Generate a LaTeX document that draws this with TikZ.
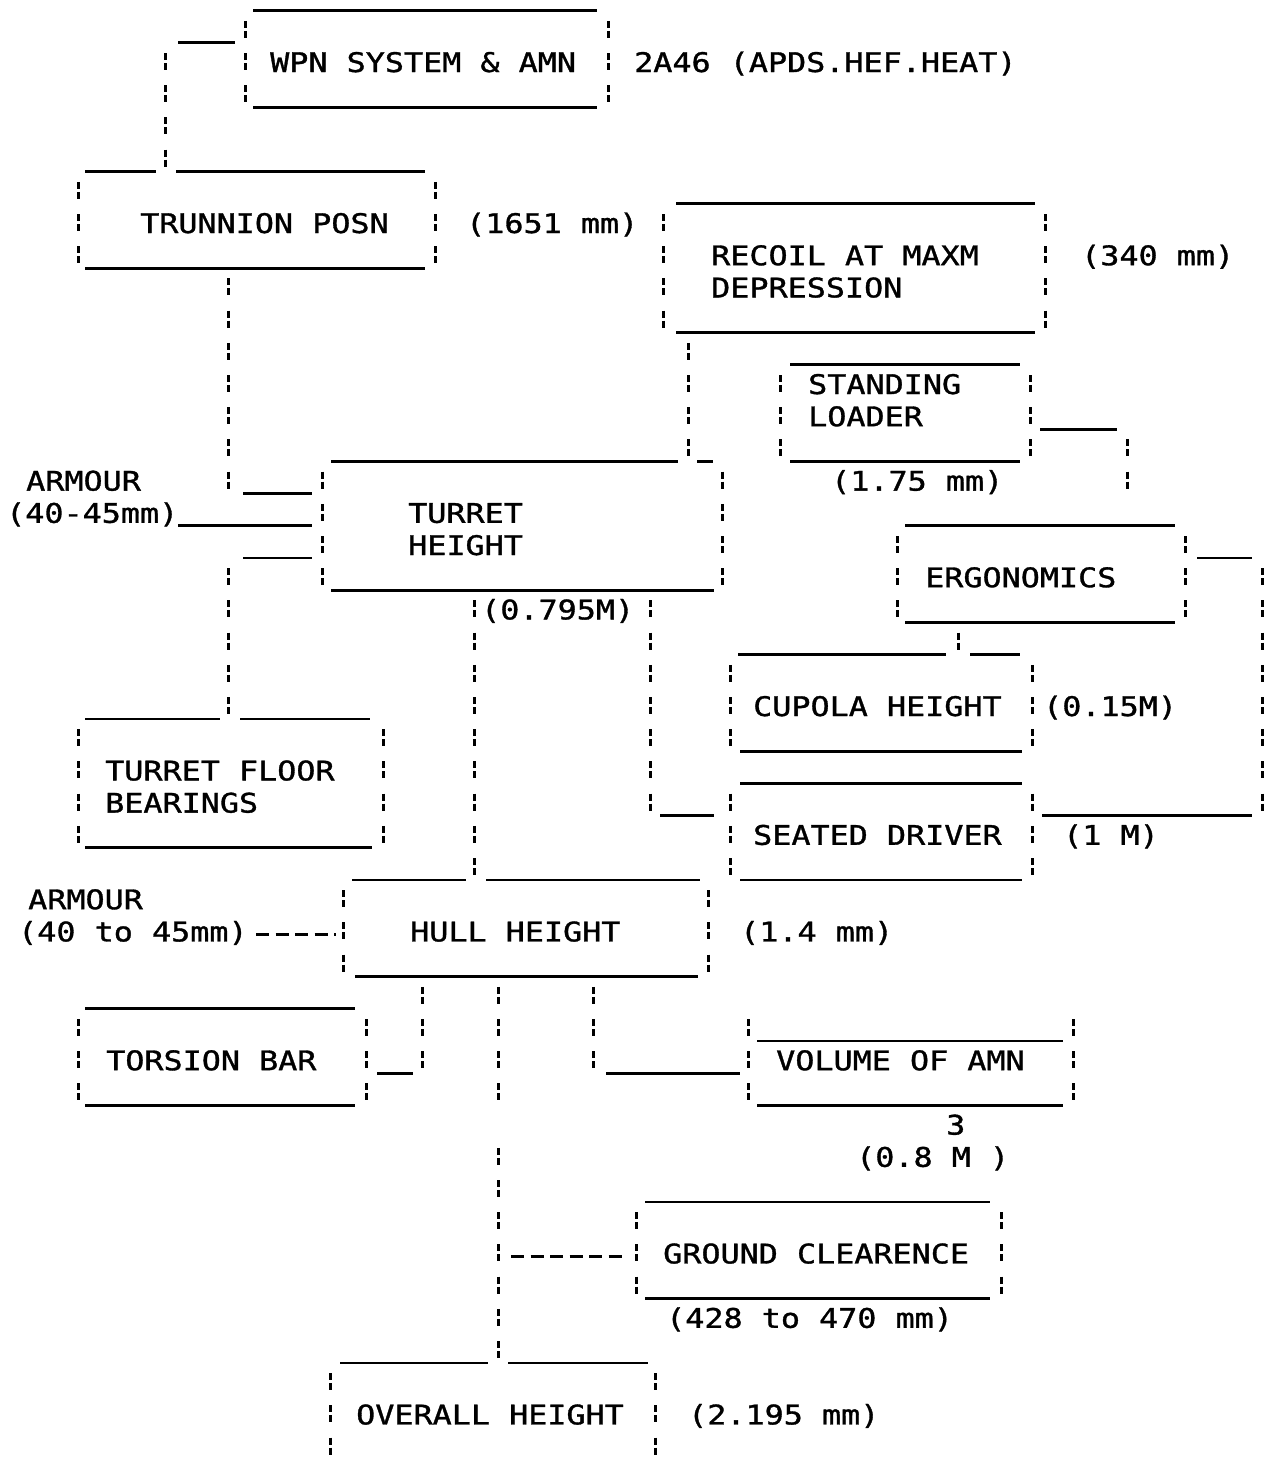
\documentclass[tikz,border=0pt]{standalone}
\usepackage{fontspec}
\newfontfamily\dotfont[FakeStretch=1.176,FakeBold=1.2]{DejaVu Sans Mono}
\tikzset{
  hln/.style={line width=2.8pt, black},
  vbn/.style={line width=3pt, black},
  txt/.style={anchor=base west, inner sep=0pt, font={\dotfont\fontsize{27}{30}\selectfont}},
  dsh/.style={line width=2.8pt, black, dash pattern=on 13pt off 6.5pt}
}
% row r: text centre at 62+32.2 r (pixels, y downwards)
\newcommand{\hl}[3]{\draw[hln] (#1,{62+32.2*(#3)+13}) -- (#2,{62+32.2*(#3)+13});}
\newcommand{\bars}[3]{\foreach \r in {#2,...,#3}{%
  \draw[vbn] (#1,{62+32.2*\r-9}) -- (#1,{62+32.2*\r-2});
  \draw[vbn] (#1,{62+32.2*\r+1}) -- (#1,{62+32.2*\r+8});}}
\newcommand{\tx}[4]{\node[txt] (#1) at ({#2-2},{62+32.2*(#3)+10}) {#4};}
\begin{document}
\begin{tikzpicture}[x=1pt,y=-1pt]
\useasboundingbox (0,0) rectangle (1274,1457);
\fill[white] (0,0) rectangle (1274,1457);
% WPN SYSTEM
\hl{253}{597}{-2}\hl{253}{597}{1}
\bars{245}{-1}{1}\bars{608}{-1}{1}
\tx{wpn}{272}{0}{WPN SYSTEM \& AMN}
\tx{wpnv}{636}{0}{2A46 (APDS.HEF.HEAT)}
\hl{178}{235}{-1}\bars{165}{0}{3}
% TRUNNION
\hl{85}{156}{3}\hl{176}{425}{3}\hl{85}{425}{6}
\bars{78}{4}{6}\bars{435}{4}{6}
\tx{trun}{142}{5}{TRUNNION POSN}
\tx{trunv}{468}{5}{(1651 mm)}
\bars{228}{7}{13}
\hl{243}{312}{13}\hl{178}{312}{14}\hl{243}{312}{15}
\bars{228}{16}{20}
\tx{arm1}{28}{13}{ARMOUR}
\tx{arm1v}{8}{14}{(40-45mm)}
% TURRET
\hl{331}{678}{12}\hl{697}{713}{12}\hl{331}{714}{16}
\bars{322}{13}{16}\bars{722}{13}{16}
\tx{tur1}{410}{14}{TURRET}
\tx{tur2}{410}{15}{HEIGHT}
% RECOIL
\hl{676}{1035}{4}\hl{676}{1035}{8}
\bars{663}{5}{8}\bars{1045}{5}{8}
\tx{rec1}{713}{6}{RECOIL AT MAXM}
\tx{rec2}{713}{7}{DEPRESSION}
\tx{recv}{1083}{6}{(340 mm)}
\bars{688}{9}{12}
% STANDING LOADER
\hl{790}{1020}{9}\hl{790}{1020}{12}
\bars{780}{10}{12}\bars{1030}{10}{12}
\tx{load1}{810}{10}{STANDING}
\tx{load2}{810}{11}{LOADER}
\tx{loadv}{833}{13}{(1.75 mm)}
\hl{1040}{1117}{11}\bars{1127}{12}{13}
% ERGONOMICS
\hl{905}{1175}{14}\hl{905}{1175}{17}
\bars{897}{15}{17}\bars{1185}{15}{17}
\tx{ergo}{927}{16}{ERGONOMICS}
\hl{1197}{1252}{15}\bars{1262}{16}{23}\hl{1042}{1252}{23}
\bars{958}{18}{18}
% CUPOLA
\hl{738}{946}{18}\hl{970}{1020}{18}\hl{740}{1022}{21}
\bars{730}{19}{21}\bars{1032}{19}{21}
\tx{cup}{755}{20}{CUPOLA HEIGHT}
\tx{cupv}{1045}{20}{(0.15M)}
% SEATED DRIVER
\hl{740}{1022}{22}\hl{740}{1022}{25}
\bars{730}{23}{25}\bars{1032}{23}{25}
\tx{drv}{755}{24}{SEATED DRIVER}
\tx{drvv}{1065}{24}{(1 M)}
\hl{660}{714}{23}
% turret height value
\bars{474}{17}{25}\bars{650}{17}{23}
\tx{turv}{483}{17}{(0.795M)}
% TURRET FLOOR BEARINGS
\hl{85}{220}{20}\hl{240}{370}{20}\hl{85}{372}{24}
\bars{78}{21}{24}\bars{383}{21}{24}
\tx{tf1}{107}{22}{TURRET FLOOR}
\tx{tf2}{107}{23}{BEARINGS}
% HULL
\hl{352}{466}{25}\hl{486}{700}{25}\hl{355}{698}{28}
\bars{343}{26}{28}\bars{708}{26}{28}
\tx{hull}{412}{27}{HULL HEIGHT}
\tx{hullv}{742}{27}{(1.4 mm)}
\tx{arm2}{30}{26}{ARMOUR}
\tx{arm2v}{20}{27}{(40 to 45mm)}
\coordinate (d1a) at (256,{62+32.2*27+3});
\coordinate (d1b) at (336,{62+32.2*27+3});
\draw[dsh] (d1a) -- (d1b);
% below hull
\bars{422}{29}{31}\bars{498}{29}{32}\bars{498}{34}{40}\bars{593}{29}{31}
% TORSION BAR
\hl{85}{355}{29}\hl{85}{355}{32}
\bars{78}{30}{32}\bars{366}{30}{32}
\tx{tor}{108}{31}{TORSION BAR}
\hl{377}{413}{31}
% VOLUME OF AMN
\hl{757}{1063}{30}\hl{757}{1063}{32}
\bars{748}{30}{32}\bars{1073}{30}{32}
\tx{vol}{778}{31}{VOLUME OF AMN}
\hl{606}{740}{31}
\tx{vole}{948}{33}{3}
\tx{volv}{858}{34}{(0.8 M )}
% GROUND CLEARENCE
\hl{645}{990}{35}\hl{645}{990}{38}
\bars{636}{36}{38}\bars{1001}{36}{38}
\tx{gnd}{665}{37}{GROUND CLEARENCE}
\tx{gndv}{668}{39}{(428 to 470 mm)}
\coordinate (d2a) at (511,{62+32.2*37+3});
\coordinate (d2b) at (627,{62+32.2*37+3});
\draw[dsh] (d2a) -- (d2b);
% OVERALL HEIGHT
\hl{340}{488}{40}\hl{508}{648}{40}
\bars{330}{41}{43}\bars{655}{41}{43}
\tx{ovr}{358}{42}{OVERALL HEIGHT}
\tx{ovrv}{690}{42}{(2.195 mm)}
\end{tikzpicture}
\end{document}
